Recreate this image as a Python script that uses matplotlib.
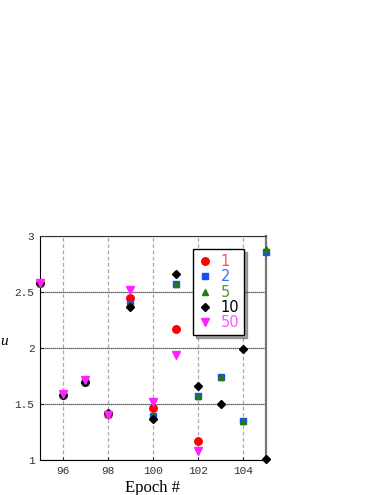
import matplotlib
matplotlib.use("Agg")
import matplotlib.pyplot as plt

# epochs per series and the values
epochs_long = [95, 96, 97, 98, 99, 100, 101, 102]
epochs_full = [95, 96, 97, 98, 99, 100, 101, 102, 103, 104, 105]

u_1 = [2.58, 1.58, 1.70, 1.41, 2.45, 1.46, 2.17, 1.17]
u_2 = [2.58, 1.58, 1.70, 1.41, 2.39, 1.39, 2.57, 1.57, 1.74, 1.35, 2.86]
u_5 = [2.58, 1.58, 1.70, 1.41, 2.39, 1.39, 2.57, 1.57, 1.74, 1.35, 2.88]
u_10 = [2.58, 1.58, 1.70, 1.42, 2.37, 1.37, 2.66, 1.66, 1.50, 1.99, 1.01]
u_50 = [2.58, 1.59, 1.71, 1.40, 2.52, 1.52, 1.94, 1.08]

x_ticks = [96, 98, 100, 102, 104]
y_ticks = [1, 1.5, 2, 2.5, 3]
y_tick_labels = ["1", "1.5", "2", "2.5", "3"]

fig = plt.figure(figsize=(3.83, 4.95), dpi=100)
ax = fig.add_axes([0.1044, 0.0707, 0.590, 0.4525])

series = [
    (epochs_long, u_1, "o", "#ff0000", "#ff5555", "1", 5.4),
    (epochs_full, u_2, "s", "#1a4dff", "#3d6bff", "2", 5.0),
    (epochs_full, u_5, "^", "#237a0e", "#4a9a30", "5", 5.0),
    (epochs_full, u_10, "D", "#000000", "#000000", "10", 4.4),
    (epochs_long, u_50, "v", "#ff22ff", "#ff55ff", "50", 6.0),
]
for xs, ys, mk, col, _, lab, ms in series:
    ax.plot(xs, ys, linestyle="none", marker=mk, color=col, markersize=ms,
            label=lab, clip_on=False, zorder=3)

ax.set_xlim(95, 105)
ax.set_ylim(1, 3)
ax.set_xticks(x_ticks)
ax.set_yticks(y_ticks)
ax.set_yticklabels(y_tick_labels)

for lab in ax.get_xticklabels() + ax.get_yticklabels():
    lab.set_family("Liberation Mono")
    lab.set_fontsize(8)
    lab.set_color("#333333")
ax.tick_params(length=2, width=0.6, direction="in", pad=4)

ax.xaxis.grid(True, linestyle=(0, (3, 2)), color="#aaaaaa", linewidth=0.9)
ax.yaxis.grid(True, linestyle=(0, (1, 0.6)), color="#333333", linewidth=0.9)
ax.set_axisbelow(True)

ax.spines["left"].set_color("black")
ax.spines["bottom"].set_color("black")
ax.spines["top"].set_color("#333333")
ax.spines["right"].set_color("#777777")
ax.spines["right"].set_linewidth(1.6)

ax.set_xlabel("Epoch #", family="Liberation Serif", fontsize=12, labelpad=3)
ax.set_ylabel("u", family="Liberation Serif", style="italic", fontsize=11,
              rotation=0, labelpad=8)
ax.yaxis.set_label_coords(-0.16, 0.5)

leg = ax.legend(loc="upper left", bbox_to_anchor=(0.677, 0.942), frameon=True,
                fancybox=False, shadow=True, borderpad=0.35, labelspacing=0.02,
                handletextpad=0.55, handlelength=1.0, borderaxespad=0,
                prop={"size": 10.5})
leg.get_frame().set_edgecolor("black")
leg.get_frame().set_linewidth(1.0)
for txt, s in zip(leg.get_texts(), series):
    txt.set_color(s[4])

fig.savefig("out.png", dpi=100)
